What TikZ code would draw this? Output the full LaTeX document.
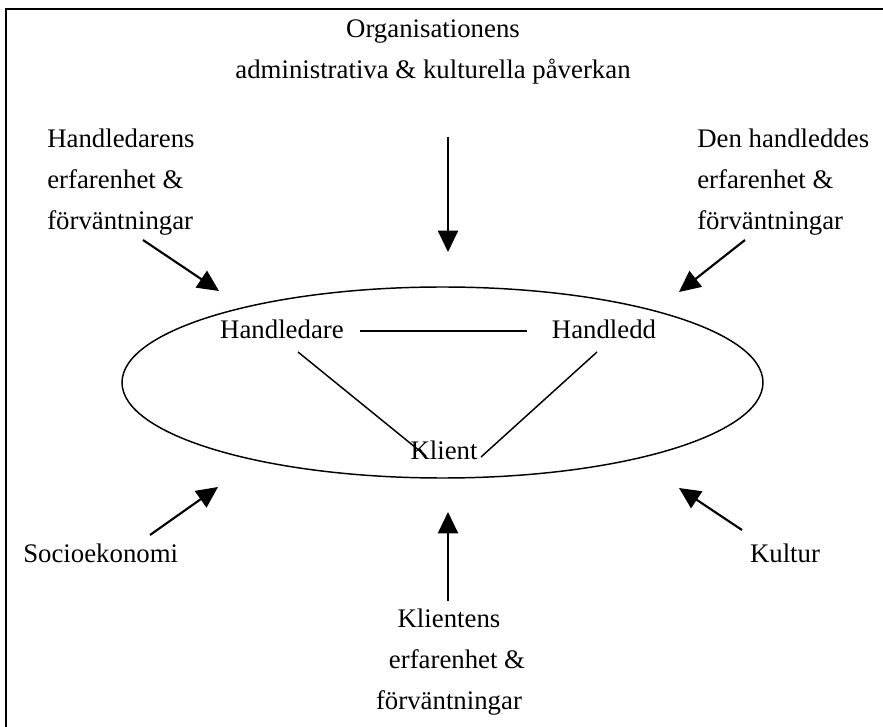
\documentclass[tikz,border=0pt]{standalone}
\usepackage{fontspec}
\setmainfont{Liberation Serif}
\usetikzlibrary{arrows.meta,shapes.geometric}
\begin{document}
\begin{tikzpicture}[x=0.75pt,y=-0.75pt,
  every node/.style={font=\fontsize{20.1}{30.75}\selectfont, inner sep=0pt},
  push/.style={line width=1.6pt, -{Triangle[length=16pt,width=15pt]}},
  tie/.style={line width=1.1pt},
  ring/.style={draw, ellipse, line width=1.1pt, inner sep=0pt}]
\useasboundingbox (0,0) rectangle (883,727);
% frame (top and left edges)
\draw[line width=1.5pt] (6,727) -- (6,9) -- (883,9);

% outer influences (multi-line nodes: base = last line's baseline)
\node[align=center, anchor=base] (org) at (433,79)
  {Organisationens\\administrativa \& kulturella påverkan};
\node[align=left, anchor=base west] (hlexp) at (47,230)
  {Handledarens\\erfarenhet \&\\förväntningar};
\node[align=left, anchor=base west] (hdexp) at (697,230)
  {Den handleddes\\erfarenhet \&\\förväntningar};
\node[anchor=base west] (soc) at (23,563) {Socioekonomi};
\node[anchor=base] (kult) at (785,563) {Kultur};
\node[align=center, anchor=base] (klexp) at (449,709)
  {Klientens\\\hspace*{12pt}erfarenhet \&\\förväntningar};

% the supervision triangle
\node[ring, minimum width=480.75pt, minimum height=143.25pt] (ring) at (442.5,382.5) {};
\node[anchor=base] (hl) at (282,339) {Handledare};
\node[anchor=base] (hd) at (604,339) {Handledd};
\node[anchor=base] (kl) at (444,460) {Klient};

\coordinate (hlR) at (360,331);
\coordinate (hdL) at (527,331);
\coordinate (hlB) at (298,352);
\coordinate (klL) at (426,456);
\coordinate (hdB) at (597,352);
\coordinate (klR) at (481,457);
\draw[tie] (hlR) -- (hdL);
\draw[tie] (hlB) -- (klL);
\draw[tie] (hdB) -- (klR);

% arrows into the ring
\coordinate (orgS) at (448,137);
\coordinate (orgT) at (448,252);
\coordinate (ulS) at (143,240);
\coordinate (ulT) at (219,291);
\coordinate (urS) at (745,240);
\coordinate (urT) at (679,292);
\coordinate (llS) at (150,535);
\coordinate (llT) at (218,487);
\coordinate (lrS) at (742,530);
\coordinate (lrT) at (679,488);
\coordinate (btS) at (448,601);
\coordinate (btT) at (448,512);
\draw[push] (orgS) -- (orgT);
\draw[push] (ulS) -- (ulT);
\draw[push] (urS) -- (urT);
\draw[push] (llS) -- (llT);
\draw[push] (lrS) -- (lrT);
\draw[push] (btS) -- (btT);
\end{tikzpicture}
\end{document}
